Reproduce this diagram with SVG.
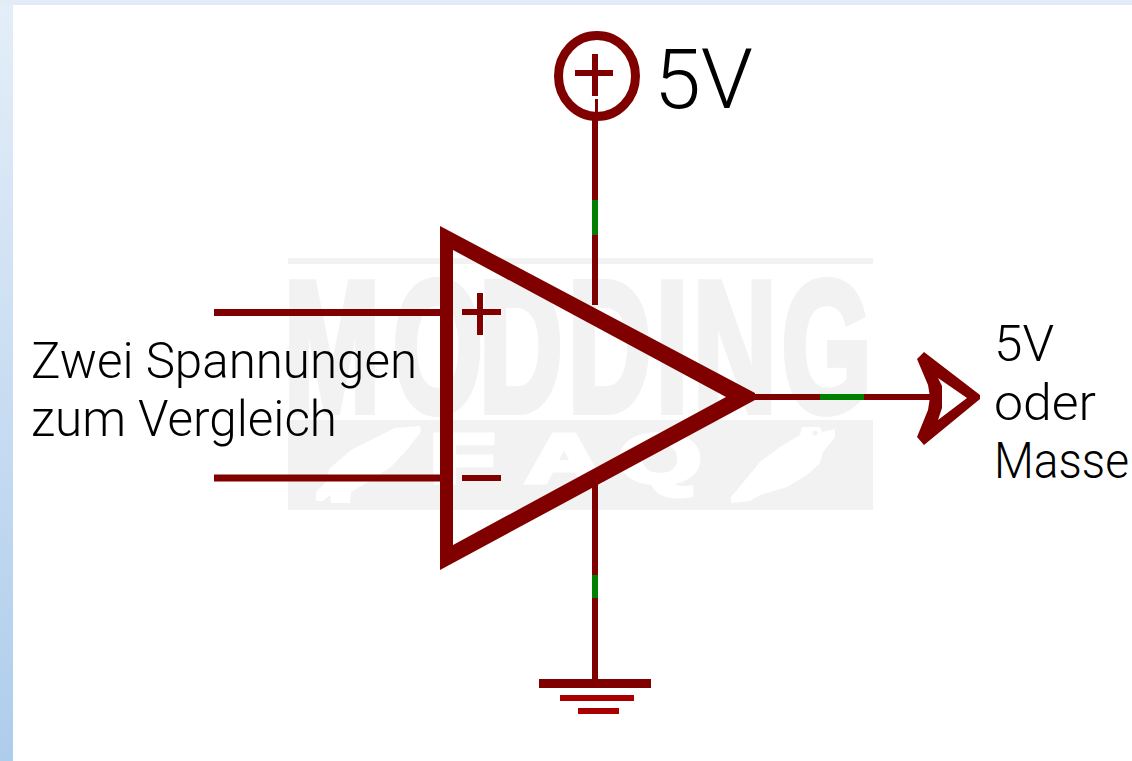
<svg xmlns="http://www.w3.org/2000/svg" width="1132" height="761" viewBox="0 0 1132 761">
<style>
.w{stroke:#800000;fill:none}
.f{fill:#800000}
.g{stroke:#008000;fill:none;stroke-width:6}
.t{font-family:Roboto,"Liberation Sans",Arial,sans-serif;font-weight:300;fill:#000}
.s{font-size:50px}
.wm{font-family:"Liberation Sans",Arial,sans-serif;font-weight:700}
</style>
<defs><linearGradient id="side" x1="0" y1="0" x2="0" y2="1"><stop offset="0" stop-color="#e4eef9"/><stop offset="1" stop-color="#aecdeb"/></linearGradient></defs>
<rect width="1132" height="761" fill="#fff"/>
<rect x="0" y="0" width="13" height="761" fill="url(#side)"/>
<rect x="0" y="0" width="1132" height="5" fill="#e2ecf7"/>
<g id="watermark">
<rect x="288" y="258" width="585" height="6" fill="#f2f2f2"/>
<text class="wm" transform="translate(284,411) scale(.62,1)" x="0 176 315 458 600 660 803" y="0" font-size="186" fill="#f2f2f2" stroke="#f2f2f2" stroke-width="8">MODDING</text>
<rect x="288" y="420" width="585" height="90" fill="#f2f2f2"/>
<text class="wm" transform="translate(430,482) scale(1.55,1)" x="0 62 122" y="0" font-size="68" fill="#fff" stroke="#fff" stroke-width="5">FAQ</text>
<path d="M395 428L420 426L421 432L405 452L391 467L368 482L351 492L350 503L331 503L330 495L323 501L316 501L316 492L325 483L330 468L351 450Z" fill="#fff"/>
<path d="M802 427L820 427L822 432L835 429L835 437L823 452L820 463L807 475L787 487L760 495L750 501L731 503L731 497L747 478L760 462L780 447L800 435Z" fill="#fff"/>
<circle cx="815" cy="433" r="2.500" fill="#f2f2f2"/>
</g>
<g id="connectors">
<path class="w" stroke-width="6" d="M595 115V305M595 480V682M750 397H935"/>
<path class="w" stroke-width="7" d="M214 312.500H441M214 478H441"/>
<path class="g" d="M595 200V235M595 575V598M820 397H864"/>
</g>
<g id="opamp">
<path class="f" fill-rule="evenodd" d="M440 226L755 393V400L440 570ZM453 250V545L726 397Z"/>
<path class="w" stroke-width="6" d="M462 312H501M480 293V335M462 478H501"/>
</g>
<g id="supply">
<ellipse class="w" stroke-width="9" cx="597" cy="76" rx="38.500" ry="40.500"/>
<path class="w" stroke-width="6" d="M575 73H613M595 54V96"/>
<path class="w" stroke-width="3" d="M596.500 99V115"/>
<text class="t" x="654" y="108" font-size="84" textLength="99" lengthAdjust="spacingAndGlyphs">5V</text>
</g>
<g id="ground">
<rect class="f" x="539" y="679" width="112" height="9"/>
<rect x="560" y="695" width="74" height="6" fill="#a80000"/>
<rect x="578" y="708" width="41" height="6" fill="#a80000"/>
</g>
<g id="output">
<path class="f" fill-rule="evenodd" d="M924 352L917 359L928 385L930 397L928 410L917 437L924 445L980 399V395ZM938 378L967 398L938 420L942 408V386Z"/>
<text class="t s" x="994" y="361" textLength="60" lengthAdjust="spacingAndGlyphs">5V</text>
<text class="t s" x="994" y="420" textLength="102" lengthAdjust="spacingAndGlyphs">oder</text>
<text class="t s" x="994" y="478" textLength="135" lengthAdjust="spacingAndGlyphs">Masse</text>
</g>
<g id="inputs-label">
<text class="t s" x="31" y="378" textLength="386" lengthAdjust="spacingAndGlyphs">Zwei Spannungen</text>
<text class="t s" x="31" y="436" textLength="306" lengthAdjust="spacingAndGlyphs">zum Vergleich</text>
</g>
</svg>
